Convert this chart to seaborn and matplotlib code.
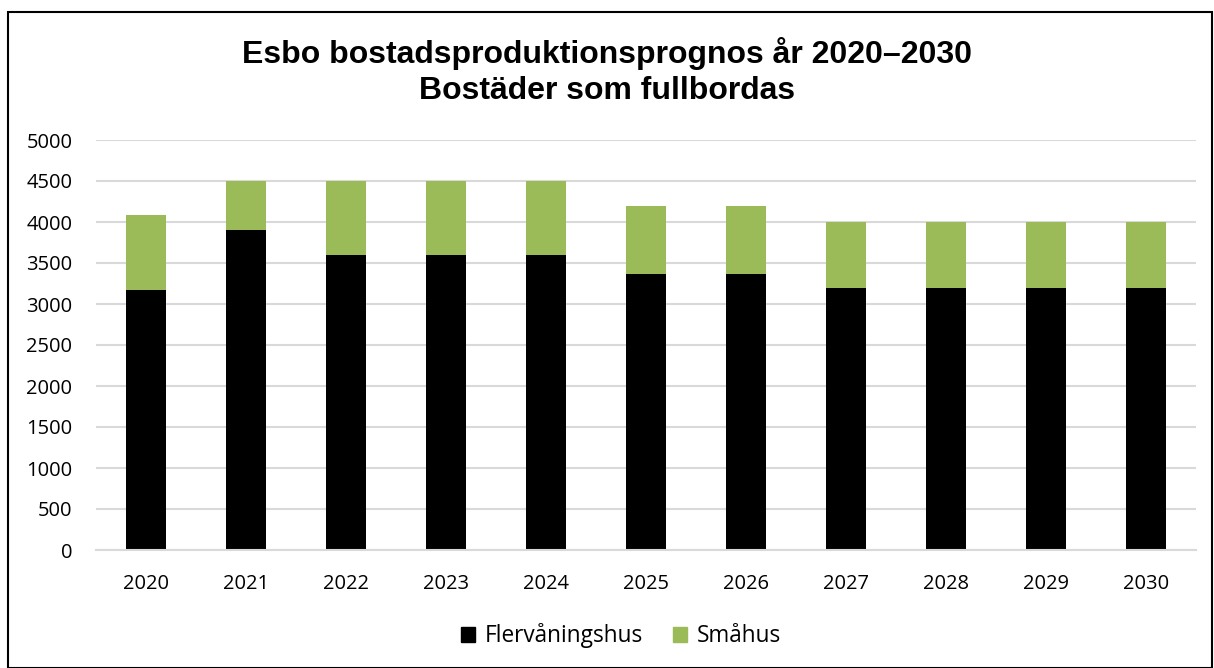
import matplotlib.pyplot as plt
from matplotlib.patches import Rectangle, Patch
import seaborn as sns
import pandas as pd

# Data
years = ["2020", "2021", "2022", "2023", "2024", "2025", "2026", "2027", "2028", "2029", "2030"]
flervaningshus = [3170, 3900, 3600, 3600, 3600, 3360, 3360, 3200, 3200, 3200, 3200]
smahus = [910, 600, 900, 900, 900, 840, 840, 800, 800, 800, 800]

df = pd.DataFrame({"år": years, "Flervåningshus": flervaningshus, "Småhus": smahus})
df["Totalt"] = df["Flervåningshus"] + df["Småhus"]

sns.set_style("white")
plt.rcParams["font.family"] = ["Open Sans", "DejaVu Sans"]
plt.rcParams["text.color"] = "black"

fig = plt.figure(figsize=(12.14, 6.68), dpi=100)
ax = fig.add_axes([96 / 1214, 1 - 550 / 668, 1100 / 1214, 410 / 668])

green = "#9BBB59"
# stacked bars: total in green, multi-storey on top in black
sns.barplot(data=df, x="år", y="Totalt", color=green, width=0.4, saturation=1,
            linewidth=0, ax=ax)
sns.barplot(data=df, x="år", y="Flervåningshus", color="black", width=0.4, saturation=1,
            linewidth=0, ax=ax)

ax.set_ylim(0, 5000)
ax.set_xlim(-0.5, 10.5)
ax.set_yticks(range(0, 5001, 500))
ax.yaxis.grid(True, color="#D9D9D9", linewidth=1.5)
ax.set_axisbelow(True)
for s in ["top", "right", "left"]:
    ax.spines[s].set_visible(False)
ax.spines["bottom"].set_color("#D9D9D9")
ax.spines["bottom"].set_linewidth(1.5)
ax.set_xlabel("")
ax.set_ylabel("")
ax.tick_params(axis="both", length=0, labelsize=14.5, colors="black")
ax.tick_params(axis="y", pad=17)
ax.tick_params(axis="x", pad=17)

title_font = ["Liberation Sans", "DejaVu Sans"]
fig.text(0.5, 1 - 53 / 668, "Esbo bostadsproduktionsprognos år 2020\u20132030",
         ha="center", va="center", fontsize=23, fontweight="bold", family=title_font)
fig.text(0.5, 1 - 91 / 668, "Bostäder som fullbordas",
         ha="center", va="center", fontsize=23, fontweight="bold", family=title_font)

handles = [Patch(color="black", label="Flervåningshus"), Patch(color=green, label="Småhus")]
fig.legend(handles=handles, loc="center", bbox_to_anchor=(621 / 1214, 1 - 636 / 668),
           ncol=2, frameon=False, fontsize=16.3, handlelength=0.62, handleheight=0.62,
           handletextpad=0.45, columnspacing=1.3)

fig.add_artist(Rectangle((8 / 1214, 0), 1 - 10 / 1214, 1 - 12 / 668, transform=fig.transFigure,
                         fill=False, edgecolor="black", linewidth=1.5))

fig.savefig("out.png", dpi=100)
